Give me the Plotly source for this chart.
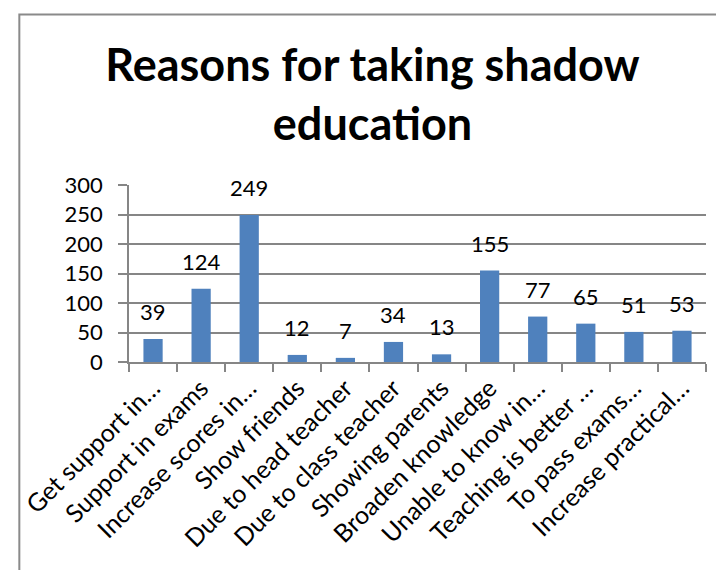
import plotly.graph_objects as go

categories = [
    "Get support in…", "Support in exams", "Increase scores in…", "Show friends",
    "Due to head teacher", "Due to class teacher", "Showing parents",
    "Broaden knowledge", "Unable to know in…", "Teaching is better …",
    "To pass exams…", "Increase practical…",
]
values = [39, 124, 249, 12, 7, 34, 13, 155, 77, 65, 51, 53]
y_ticks = [0, 50, 100, 150, 200, 250, 300]

FONT = "Lato"
BAR = "#4F81BD"
GRID = "#868686"

# page body has an 8px default margin, so the figure is sized to fit the window
OFF = 8
W, H = 724 - OFF, 570 - OFF
L, R = 122 - OFF, 18
T, B = 185 - OFF, 208
pw, ph = W - L - R, H - T - B

fig = go.Figure()
fig.add_trace(go.Bar(
    x=categories, y=values, marker=dict(color=BAR, line=dict(width=0)),
    width=0.4, hoverinfo="x+y",
))

annotations = [
    dict(x=c, y=v, xref="x", yref="y", text=str(v), showarrow=False,
         yanchor="bottom", yshift=12, font=dict(family=FONT, size=22, color="black"))
    for c, v in zip(categories, values)
]

fig.update_layout(
    width=W, height=H, autosize=False,
    margin=dict(l=L, r=R, t=T, b=B, pad=0),
    paper_bgcolor="white", plot_bgcolor="white",
    showlegend=False,
    title=dict(
        text="Reasons for taking shadow<br>education",
        font=dict(family=FONT, size=45, color="black", weight="bold"),
        x=(372.5 - OFF) / W, xanchor="center", xref="container",
        y=0.87, yanchor="top", yref="container",
    ),
    annotations=annotations,
    shapes=[dict(
        type="rect", xref="paper", yref="paper",
        x0=(11 - OFF - L) / pw, x1=2.0, y0=-3.0, y1=(H - B - (14.5 - OFF)) / ph,
        line=dict(color="#8a8a8a", width=2), fillcolor="rgba(0,0,0,0)", layer="below",
    )],
    xaxis=dict(
        type="category", tickangle=-45, tickson="boundaries",
        ticks="outside", ticklen=8, tickcolor=GRID, tickwidth=1.5,
        showline=True, linecolor=GRID, linewidth=1.5, showgrid=False,
        tickfont=dict(family=FONT, size=25, color="black"),
    ),
    yaxis=dict(
        range=[0, 300], tickvals=y_ticks, ticks="outside", ticklen=9,
        tickcolor=GRID, tickwidth=1.5, showline=True, linecolor=GRID, linewidth=1.5,
        showgrid=True, gridcolor=GRID, gridwidth=1.5, zeroline=False,
        ticklabelstandoff=11,
        tickfont=dict(family=FONT, size=22, color="black"),
    ),
)

fig.write_html("out.html")
